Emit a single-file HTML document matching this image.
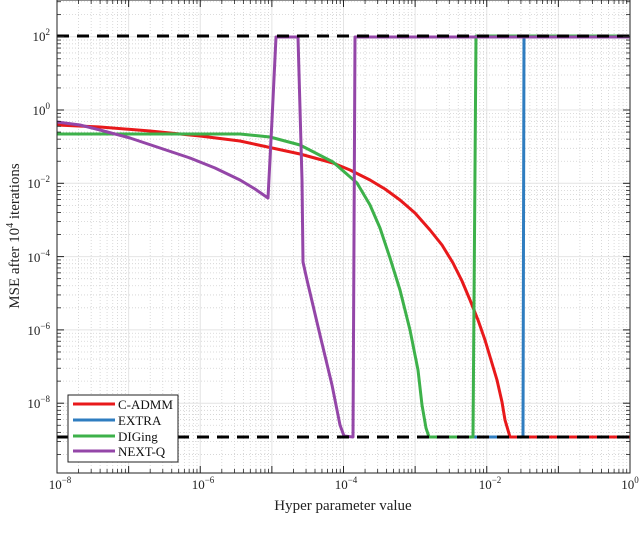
<!DOCTYPE html>
<html><head><meta charset="utf-8"><style>
html,body{margin:0;padding:0;background:#fff;overflow:hidden;width:640px;height:546px;}
svg{display:block;font-family:"Liberation Serif",serif;}
</style></head><body>
<svg id="s" width="640" height="546" viewBox="0 0 640 546" xmlns="http://www.w3.org/2000/svg">
<rect width="640" height="546" fill="#fff"/>
<g id="grid"></g>
<g fill="none" stroke-width="3" stroke-linejoin="round">
<polyline stroke="#2f7dc0" points="428,437 523,437 524,36 630,36"/>
<polyline stroke="#e8191b" points="57,125 100,127 150,131 200,136 240,141 300,154 333,163 350,170 370,180 385,189 400,200 415,213 430,230 442,245 453,263 462,281 470,300 478,320 485,340 491,360 497,380 502,402 505,420 510,437 630,437"/>
<polyline stroke="#3db14a" points="57,134 240,134 270,137 300,145 333,162 357,183 370,205 380,228 390,258 400,290 410,330 418,370 422,405 426,428 429,437 473,437 476,36 630,36"/>
<polyline stroke="#9446a8" points="57,122 80,125 100,130 130,138 160,148 190,158 215,168 240,180 255,189 268,198 272,120 276,37 298,37 302,180 303,262 307,280 320,335 332,385 340,425 344,436 353,437 355,37 630,37"/>
</g>
<line x1="57" y1="36" x2="630" y2="36" stroke="#000" stroke-width="3" stroke-dasharray="12,8"/>
<line x1="57" y1="437" x2="630" y2="437" stroke="#000" stroke-width="3" stroke-dasharray="12,8"/>
<g id="ticks"></g>
<rect x="57" y="0" width="573" height="473" fill="none" stroke="#222" stroke-width="1"/>
<rect x="68" y="395" width="110" height="67" fill="#fff" stroke="#222" stroke-width="1"/>
<g stroke-width="3">
<line x1="73" y1="404" x2="115" y2="404" stroke="#e8191b"/>
<line x1="73" y1="420" x2="115" y2="420" stroke="#2f7dc0"/>
<line x1="73" y1="436" x2="115" y2="436" stroke="#3db14a"/>
<line x1="73" y1="451" x2="115" y2="451" stroke="#9446a8"/>
</g>
<g font-size="13" fill="#111">
<text x="118" y="409">C-ADMM</text>
<text x="118" y="425">EXTRA</text>
<text x="118" y="441">DIGing</text>
<text x="118" y="456">NEXT-Q</text>
</g>
<g font-size="13" fill="#222" text-anchor="end">
<text x="50" y="41">10<tspan font-size="9" dy="-6">2</tspan></text>
<text x="50" y="115">10<tspan font-size="9" dy="-6">0</tspan></text>
<text x="50" y="188">10<tspan font-size="9" dy="-6">−2</tspan></text>
<text x="50" y="262">10<tspan font-size="9" dy="-6">−4</tspan></text>
<text x="50" y="335">10<tspan font-size="9" dy="-6">−6</tspan></text>
<text x="50" y="408">10<tspan font-size="9" dy="-6">−8</tspan></text>
</g>
<g font-size="13" fill="#222" text-anchor="middle">
<text x="60" y="489">10<tspan font-size="9" dy="-6">−8</tspan></text>
<text x="203" y="489">10<tspan font-size="9" dy="-6">−6</tspan></text>
<text x="346" y="489">10<tspan font-size="9" dy="-6">−4</tspan></text>
<text x="490" y="489">10<tspan font-size="9" dy="-6">−2</tspan></text>
<text x="630" y="489">10<tspan font-size="9" dy="-6">0</tspan></text>
</g>
<text x="343" y="510" font-size="15" text-anchor="middle" fill="#222">Hyper parameter value</text>
<text transform="translate(19,236) rotate(-90)" font-size="15" text-anchor="middle" fill="#222">MSE after 10<tspan font-size="10" dy="-6">4</tspan><tspan dy="6"> iterations</tspan></text>
</svg>
<script>
(function(){
var ns="http://www.w3.org/2000/svg",g=document.getElementById("grid"),t=document.getElementById("ticks");
function L(p,x1,y1,x2,y2,c,w,d){var l=document.createElementNS(ns,"line");l.setAttribute("x1",x1);l.setAttribute("y1",y1);l.setAttribute("x2",x2);l.setAttribute("y2",y2);l.setAttribute("stroke",c);l.setAttribute("stroke-width",w);if(d)l.setAttribute("stroke-dasharray",d);p.appendChild(l);}
function X(d){return 57+(d+8)*71.625;}
function Y(e){return 110-e*73.3;}
for(var d=-8;d<=0;d++){var x=X(d);
 L(g,x,0,x,473,"#e4e4e4",1);L(t,x,473,x,466,"#222",1);L(t,x,0,x,7,"#222",1);
 if(d<0)for(var k=2;k<10;k++){var xx=X(d+Math.log10(k));L(g,xx,0,xx,473,"#d0d0d0",0.8,"1,2");L(t,xx,473,xx,469,"#222",0.8);L(t,xx,0,xx,4,"#222",0.8);}}
for(var e=-9;e<=2;e++){var y=Y(e);
 if(y>0&&y<473){L(g,57,y,630,y,"#e4e4e4",1);L(t,57,y,64,y,"#222",1);L(t,630,y,623,y,"#222",1);}
 for(var k=2;k<10;k++){var yy=Y(e+Math.log10(k));if(yy<=0||yy>=473)continue;L(g,57,yy,630,yy,"#d0d0d0",0.8,"1,2");L(t,57,yy,61,yy,"#222",0.8);L(t,630,yy,626,yy,"#222",0.8);}}
})();
</script>
</body></html>
